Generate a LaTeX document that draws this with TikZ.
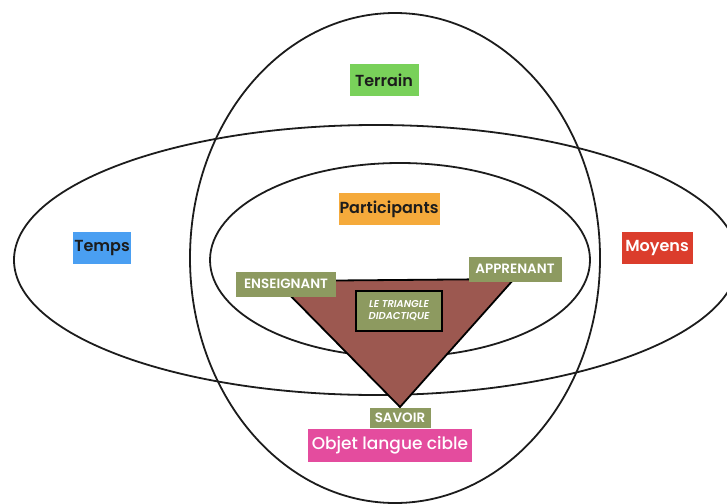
\documentclass[tikz,border=0pt]{standalone}
\usepackage{fontspec}
\setmainfont{Poppins}
\newfontfamily\medfont{Poppins Medium}[ItalicFont={Poppins Medium Italic}]
\newfontfamily\semifont{Poppins SemiBold}[ItalicFont={Poppins SemiBold Italic}]
\usetikzlibrary{positioning}
\definecolor{ink}{HTML}{1C1C1C}
\definecolor{terraingreen}{HTML}{79D15A}
\definecolor{tempsblue}{HTML}{4A9FF2}
\definecolor{moyensred}{HTML}{DB3D2C}
\definecolor{partorange}{HTML}{F5AA3B}
\definecolor{olive}{HTML}{8D9A60}
\definecolor{pinkish}{HTML}{E44C9E}
\definecolor{brick}{HTML}{9C5850}

\tikzset{
  ring/.style={draw=ink, line width=1.8pt},
  tag/.style={inner sep=0pt, minimum height=32pt, font=\semifont\fontsize{16}{17}\selectfont, text=ink},
  role/.style={inner sep=0pt, minimum height=25pt, fill=olive, text=white, font=\semifont\fontsize{13.5}{14}\selectfont},
}

\begin{document}
\begin{tikzpicture}[x=1pt,y=-1pt]
        \useasboundingbox (0,0) rectangle (727,503);
        % the three circles
        \begin{scope}
          \clip (0,0) rectangle (727,503);
          \draw[ring] (395,258) ellipse [x radius=205, y radius=245];
          \draw[ring] (376,260) ellipse [x radius=362, y radius=135];
          \draw[ring] (400,260) ellipse [x radius=190, y radius=97];
        \end{scope}
        % triangle
        \coordinate (ens) at (276,281);
        \coordinate (app) at (514,279);
        \coordinate (sav) at (400,407);
        \filldraw[fill=brick, draw=black, line width=1.8pt] (ens) -- (app) -- (sav) -- cycle;
        \node[draw=black, line width=2.2pt, fill=olive, inner sep=0pt, minimum width=86pt, minimum height=40pt,
              align=center, text=white, font=\semifont\fontsize{10}{12}\selectfont\itshape] (didac) at (399,311) {LE TRIANGLE\\DIDACTIQUE};
        \node[role, minimum width=100pt] (enseignant) at (286,284) {ENSEIGNANT};
        \node[role, minimum width=93pt] (apprenant) at (515,269) {APPRENANT};
        \node[role, minimum width=61pt, minimum height=20pt] (savoir) at (400,418) {SAVOIR};
        % labels
        \node[tag, fill=terraingreen, minimum width=69pt] (terrain) at (384,80) {Terrain};
        \node[tag, fill=tempsblue, minimum width=58pt] (temps) at (102,248) {Temps};
        \node[tag, fill=moyensred, minimum width=71pt, text=white] (moyens) at (657,248) {Moyens};
        \node[tag, fill=partorange, minimum width=101pt] (participants) at (389,209) {Participants};
        \node[tag, fill=pinkish, minimum width=164pt, minimum height=33pt, text=white,
              font=\medfont\fontsize{17}{18}\selectfont] (objet) at (390,445) {Objet langue cible};
\end{tikzpicture}
\end{document}
